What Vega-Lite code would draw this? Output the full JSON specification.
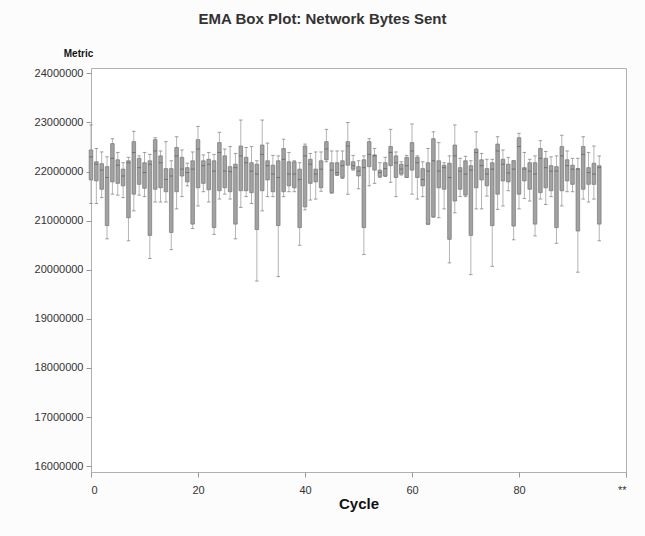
{
  "$schema": "https://vega.github.io/schema/vega-lite/v6.json",
  "autosize": {"type": "none"},
  "width": 535,
  "height": 404,
  "padding": {"left": 91, "top": 68, "right": 19, "bottom": 64},
  "background": "#fcfcfc",
  "title": {
    "text": "EMA Box Plot: Network Bytes Sent",
    "anchor": "middle",
    "frame": "group",
    "dx": -36,
    "offset": 21,
    "fontSize": 15,
    "fontWeight": "bold",
    "font": "Liberation Sans",
    "color": "#333333"
  },
  "config": {
    "view": {"stroke": "#b0b0b0", "fill": "#ffffff"},
    "axis": {
      "grid": false,
      "domain": false,
      "tickColor": "#999999",
      "tickSize": 5,
      "labelFont": "Liberation Sans",
      "labelFontSize": 11,
      "labelColor": "#333333",
      "titleFont": "Liberation Sans",
      "titleColor": "#111111"
    }
  },
  "data": {
    "values": [
      {"cycle":0,"max":22950000,"q3":22440000,"median":22300000,"q1":21830000,"min":21350000},
      {"cycle":1,"max":22470000,"q3":22200000,"median":22150000,"q1":21810000,"min":21350000},
      {"cycle":2,"max":22400000,"q3":22160000,"median":22030000,"q1":21640000,"min":21470000},
      {"cycle":3,"max":22300000,"q3":22100000,"median":21880000,"q1":20900000,"min":20630000},
      {"cycle":4,"max":22670000,"q3":22570000,"median":22270000,"q1":21790000,"min":21540000},
      {"cycle":5,"max":22390000,"q3":22240000,"median":22130000,"q1":21760000,"min":21520000},
      {"cycle":6,"max":22180000,"q3":22050000,"median":21910000,"q1":21710000,"min":21470000},
      {"cycle":7,"max":22290000,"q3":22220000,"median":22180000,"q1":21060000,"min":20590000},
      {"cycle":8,"max":22820000,"q3":22610000,"median":22390000,"q1":21540000,"min":21200000},
      {"cycle":9,"max":22320000,"q3":22270000,"median":22080000,"q1":21740000,"min":21520000},
      {"cycle":10,"max":22390000,"q3":22180000,"median":21980000,"q1":21660000,"min":21490000},
      {"cycle":11,"max":22350000,"q3":22220000,"median":22150000,"q1":20700000,"min":20230000},
      {"cycle":12,"max":22690000,"q3":22650000,"median":22420000,"q1":21640000,"min":21380000},
      {"cycle":13,"max":22420000,"q3":22320000,"median":22180000,"q1":21670000,"min":21380000},
      {"cycle":14,"max":22610000,"q3":22060000,"median":21840000,"q1":21590000,"min":21380000},
      {"cycle":15,"max":22220000,"q3":22060000,"median":21910000,"q1":20760000,"min":20410000},
      {"cycle":16,"max":22710000,"q3":22490000,"median":22320000,"q1":21590000,"min":21240000},
      {"cycle":17,"max":22440000,"q3":22290000,"median":22050000,"q1":21910000,"min":21490000},
      {"cycle":18,"max":22170000,"q3":22080000,"median":21980000,"q1":21790000,"min":21710000},
      {"cycle":19,"max":22400000,"q3":22220000,"median":22050000,"q1":20930000,"min":20840000},
      {"cycle":20,"max":22920000,"q3":22650000,"median":22460000,"q1":21670000,"min":21300000},
      {"cycle":21,"max":22340000,"q3":22220000,"median":22120000,"q1":21760000,"min":21590000},
      {"cycle":22,"max":22390000,"q3":22250000,"median":22150000,"q1":21630000,"min":21380000},
      {"cycle":23,"max":22350000,"q3":22220000,"median":22010000,"q1":20860000,"min":20720000},
      {"cycle":24,"max":22800000,"q3":22590000,"median":22390000,"q1":21610000,"min":21440000},
      {"cycle":25,"max":22460000,"q3":22320000,"median":22010000,"q1":21670000,"min":21540000},
      {"cycle":26,"max":22510000,"q3":22100000,"median":22000000,"q1":21590000,"min":21440000},
      {"cycle":27,"max":22370000,"q3":22150000,"median":22080000,"q1":20930000,"min":20630000},
      {"cycle":28,"max":23050000,"q3":22520000,"median":22320000,"q1":21610000,"min":21270000},
      {"cycle":29,"max":22490000,"q3":22290000,"median":22180000,"q1":21610000,"min":21490000},
      {"cycle":30,"max":22510000,"q3":22180000,"median":22010000,"q1":21570000,"min":21350000},
      {"cycle":31,"max":22220000,"q3":22150000,"median":21950000,"q1":20820000,"min":19770000},
      {"cycle":32,"max":23050000,"q3":22540000,"median":22350000,"q1":21610000,"min":21200000},
      {"cycle":33,"max":22580000,"q3":22220000,"median":22120000,"q1":21830000,"min":21490000},
      {"cycle":34,"max":22330000,"q3":22130000,"median":21950000,"q1":21590000,"min":21490000},
      {"cycle":35,"max":22320000,"q3":22220000,"median":21880000,"q1":20900000,"min":19860000},
      {"cycle":36,"max":22660000,"q3":22470000,"median":22250000,"q1":21590000,"min":21490000},
      {"cycle":37,"max":22390000,"q3":22200000,"median":21950000,"q1":21710000,"min":21590000},
      {"cycle":38,"max":22220000,"q3":22200000,"median":21950000,"q1":21670000,"min":21590000},
      {"cycle":39,"max":22180000,"q3":22050000,"median":21840000,"q1":20860000,"min":20500000},
      {"cycle":40,"max":22560000,"q3":22520000,"median":22320000,"q1":21280000,"min":21220000},
      {"cycle":41,"max":22370000,"q3":22250000,"median":22150000,"q1":21760000,"min":21420000},
      {"cycle":42,"max":22400000,"q3":22050000,"median":21950000,"q1":21790000,"min":21440000},
      {"cycle":43,"max":22400000,"q3":22220000,"median":22050000,"q1":21670000,"min":21600000},
      {"cycle":44,"max":22860000,"q3":22610000,"median":22460000,"q1":22240000,"min":22200000},
      {"cycle":45,"max":22420000,"q3":22180000,"median":22030000,"q1":21570000,"min":21560000},
      {"cycle":46,"max":22420000,"q3":22180000,"median":21980000,"q1":21930000,"min":21920000},
      {"cycle":47,"max":22420000,"q3":22220000,"median":22120000,"q1":21880000,"min":21860000},
      {"cycle":48,"max":23000000,"q3":22610000,"median":22520000,"q1":22130000,"min":21540000},
      {"cycle":49,"max":22330000,"q3":22200000,"median":22120000,"q1":22050000,"min":22030000},
      {"cycle":50,"max":22220000,"q3":22100000,"median":22010000,"q1":21910000,"min":21650000},
      {"cycle":51,"max":22320000,"q3":22240000,"median":22080000,"q1":20860000,"min":20310000},
      {"cycle":52,"max":22670000,"q3":22610000,"median":22350000,"q1":22100000,"min":21710000},
      {"cycle":53,"max":22470000,"q3":22340000,"median":22320000,"q1":22030000,"min":21760000},
      {"cycle":54,"max":22180000,"q3":22030000,"median":21980000,"q1":21900000,"min":21880000},
      {"cycle":55,"max":22290000,"q3":22180000,"median":22060000,"q1":21910000,"min":21900000},
      {"cycle":56,"max":22860000,"q3":22510000,"median":22390000,"q1":22120000,"min":21780000},
      {"cycle":57,"max":22400000,"q3":22320000,"median":22180000,"q1":21880000,"min":21490000},
      {"cycle":58,"max":22200000,"q3":22150000,"median":22050000,"q1":21950000,"min":21930000},
      {"cycle":59,"max":22330000,"q3":22290000,"median":22120000,"q1":21880000,"min":21880000},
      {"cycle":60,"max":22970000,"q3":22590000,"median":22420000,"q1":22030000,"min":21540000},
      {"cycle":61,"max":22320000,"q3":22290000,"median":22180000,"q1":21880000,"min":21440000},
      {"cycle":62,"max":22200000,"q3":22060000,"median":21840000,"q1":21710000,"min":21490000},
      {"cycle":63,"max":22470000,"q3":22180000,"median":22010000,"q1":20930000,"min":20920000},
      {"cycle":64,"max":22810000,"q3":22670000,"median":22220000,"q1":21080000,"min":21070000},
      {"cycle":65,"max":22590000,"q3":22220000,"median":22010000,"q1":21670000,"min":21060000},
      {"cycle":66,"max":22180000,"q3":22130000,"median":22080000,"q1":21640000,"min":21240000},
      {"cycle":67,"max":22320000,"q3":22170000,"median":21880000,"q1":20620000,"min":20140000},
      {"cycle":68,"max":22950000,"q3":22540000,"median":22320000,"q1":21400000,"min":21160000},
      {"cycle":69,"max":22270000,"q3":22080000,"median":22010000,"q1":21640000,"min":21490000},
      {"cycle":70,"max":22310000,"q3":22220000,"median":21950000,"q1":21520000,"min":21490000},
      {"cycle":71,"max":22220000,"q3":22120000,"median":22030000,"q1":20700000,"min":19900000},
      {"cycle":72,"max":22810000,"q3":22460000,"median":22390000,"q1":21670000,"min":21240000},
      {"cycle":73,"max":22370000,"q3":22240000,"median":22120000,"q1":21830000,"min":21240000},
      {"cycle":74,"max":22250000,"q3":22060000,"median":21950000,"q1":21710000,"min":21500000},
      {"cycle":75,"max":22250000,"q3":22180000,"median":22050000,"q1":20900000,"min":20070000},
      {"cycle":76,"max":22710000,"q3":22560000,"median":22420000,"q1":21540000,"min":21230000},
      {"cycle":77,"max":22440000,"q3":22250000,"median":22150000,"q1":21810000,"min":21300000},
      {"cycle":78,"max":22290000,"q3":22150000,"median":21970000,"q1":21790000,"min":21610000},
      {"cycle":79,"max":22220000,"q3":22220000,"median":22050000,"q1":20890000,"min":20610000},
      {"cycle":80,"max":22780000,"q3":22690000,"median":22510000,"q1":21540000,"min":21240000},
      {"cycle":81,"max":22390000,"q3":22080000,"median":22050000,"q1":21810000,"min":21450000},
      {"cycle":82,"max":22250000,"q3":22180000,"median":22010000,"q1":21640000,"min":21400000},
      {"cycle":83,"max":22320000,"q3":22180000,"median":21950000,"q1":20930000,"min":20690000},
      {"cycle":84,"max":22630000,"q3":22470000,"median":22270000,"q1":21570000,"min":21440000},
      {"cycle":85,"max":22410000,"q3":22270000,"median":22080000,"q1":21670000,"min":21330000},
      {"cycle":86,"max":22300000,"q3":22120000,"median":22010000,"q1":21610000,"min":21490000},
      {"cycle":87,"max":22320000,"q3":22100000,"median":22010000,"q1":20860000,"min":20540000},
      {"cycle":88,"max":22740000,"q3":22510000,"median":22320000,"q1":21610000,"min":21300000},
      {"cycle":89,"max":22420000,"q3":22240000,"median":22120000,"q1":21810000,"min":21590000},
      {"cycle":90,"max":22270000,"q3":22130000,"median":22050000,"q1":21740000,"min":21590000},
      {"cycle":91,"max":22270000,"q3":22060000,"median":22050000,"q1":20790000,"min":19950000},
      {"cycle":92,"max":22710000,"q3":22510000,"median":22350000,"q1":21640000,"min":21440000},
      {"cycle":93,"max":22390000,"q3":22080000,"median":21980000,"q1":21740000,"min":21380000},
      {"cycle":94,"max":22520000,"q3":22170000,"median":21950000,"q1":21740000,"min":21440000},
      {"cycle":95,"max":22320000,"q3":22120000,"median":22080000,"q1":20930000,"min":20590000}
    ]
  },
  "encoding": {
    "x": {
      "field": "cycle",
      "type": "quantitative",
      "scale": {"domain": [0, 100], "nice": false, "zero": false, "padding": 0},
      "axis": {
        "values": [0, 20, 40, 60, 80, 100],
        "labelExpr": "datum.value == 100 ? '**' : datum.label",
        "title": "Cycle",
        "titleFontSize": 15,
        "titleFontWeight": "bold",
        "labelPadding": 7,
        "titlePadding": 1
      }
    }
  },
  "layer": [
    {
      "mark": {"type": "rule", "color": "#b4b4b4", "strokeWidth": 1},
      "encoding": {
        "y": {
          "field": "min",
          "type": "quantitative",
          "scale": {"domain": [15880000, 24110000], "nice": false, "zero": false},
          "axis": {
            "values": [16000000, 17000000, 18000000, 19000000, 20000000, 21000000, 22000000, 23000000, 24000000],
            "format": "d",
            "title": "Metric",
            "titleAngle": 0,
            "titleAlign": "center",
            "titleBaseline": "bottom",
            "titleX": -13,
            "titleY": -10,
            "titleFontSize": 10,
            "titleFontWeight": "bold",
            "labelPadding": 3
          }
        },
        "y2": {"field": "max"}
      }
    },
    {
      "mark": {"type": "tick", "color": "#777777", "size": 3.5, "thickness": 1, "orient": "horizontal"},
      "encoding": {"y": {"field": "min", "type": "quantitative"}}
    },
    {
      "mark": {"type": "tick", "color": "#777777", "size": 3.5, "thickness": 1, "orient": "horizontal"},
      "encoding": {"y": {"field": "max", "type": "quantitative"}}
    },
    {
      "mark": {"type": "bar", "width": 3.6, "fill": "#a2a2a2", "stroke": "#767676", "strokeWidth": 0.7},
      "encoding": {
        "y": {"field": "q1", "type": "quantitative"},
        "y2": {"field": "q3"}
      }
    },
    {
      "mark": {"type": "tick", "color": "#5a5a5a", "size": 3.6, "thickness": 1, "orient": "horizontal"},
      "encoding": {"y": {"field": "median", "type": "quantitative"}}
    }
  ]
}
